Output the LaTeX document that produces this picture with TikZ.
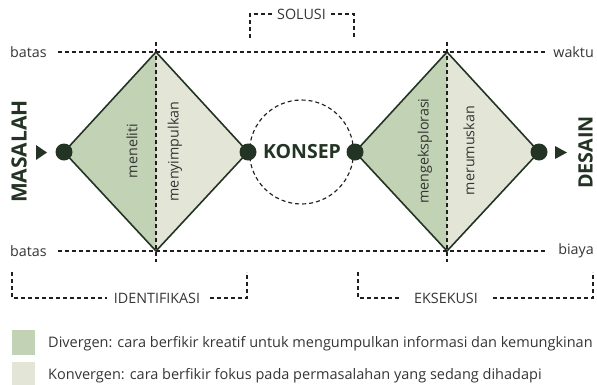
\documentclass[tikz,border=0pt]{standalone}
\usepackage{fontspec}
\setmainfont{Open Sans}
\definecolor{dk}{HTML}{243424}
\definecolor{gA}{HTML}{C2D2B4}
\definecolor{gB}{HTML}{E3E6D7}
\definecolor{tx}{HTML}{353535}
\tikzset{
  dl/.style={dash pattern=on 4pt off 3pt, line width=1.15pt, draw=black!88},
  lab/.style={text=tx, font=\fontsize{14.3}{15}\selectfont, inner sep=0pt},
  rlab/.style={lab, rotate=90},
  big/.style={text=dk, inner sep=0pt},
  dot/.style={circle, fill=dk, minimum size=17pt, inner sep=0pt},
  edgeline/.style={draw=dk, line width=1.6pt, line join=miter},
  brk/.style={lab, fill=white}
}
\begin{document}
\begin{tikzpicture}[x=1pt,y=-1pt]
\useasboundingbox (0,0) rectangle (597,384);
% diamond vertices
\coordinate (L1) at (64,152);  \coordinate (T1) at (156,52);
\coordinate (R1) at (248,152); \coordinate (B1) at (156,251);
\coordinate (L2) at (355,152); \coordinate (T2) at (447,52);
\coordinate (R2) at (539,152); \coordinate (B2) at (447,251);
% fills
\fill[gA] (L1) -- (T1) -- (B1) -- cycle;
\fill[gB] (T1) -- (R1) -- (B1) -- cycle;
\fill[gA] (L2) -- (T2) -- (B2) -- cycle;
\fill[gB] (T2) -- (R2) -- (B2) -- cycle;
\draw[edgeline] (L1) -- (T1) -- (R1) -- (B1) -- cycle;
\draw[edgeline] (L2) -- (T2) -- (R2) -- (B2) -- cycle;
% vertical dashed axes
\coordinate (V1t) at (156,42); \coordinate (V1b) at (156,262);
\coordinate (V2t) at (447,42); \coordinate (V2b) at (447,262);
\draw[dl] (V1t) -- (V1b);
\draw[dl] (V2t) -- (V2b);
% horizontal limits
\coordinate (Ht1) at (58,52);  \coordinate (Ht2) at (547,52);
\coordinate (Hb1) at (58,251); \coordinate (Hb2) at (547,251);
\draw[dl] (Ht1) -- (Ht2);
\draw[dl] (Hb1) -- (Hb2);
\node[lab, anchor=west] (batasT) at (10,52) {batas};
\node[lab, anchor=west] (batasB) at (10,251) {batas};
\node[lab, anchor=east] (waktu) at (594,52) {waktu};
\node[lab, anchor=east] (biaya) at (594,251) {biaya};
% concept circle
\coordinate (C) at (301.5,152);
\draw[dl] (C) circle[radius=52];
\node[big, font=\bfseries\fontsize{19.5}{19.5}\selectfont] (konsep) at (302,152) {KONSEP};
% dots
\node[dot] (d1) at (L1) {};
\node[dot] (d2) at (R1) {};
\node[dot] (d3) at (L2) {};
\node[dot] (d4) at (R2) {};
% arrows
\fill[dk] (36,145) -- (47,152.5) -- (36,160) -- cycle;
\fill[dk] (555,146) -- (567,152.5) -- (555,159) -- cycle;
\node[big, rotate=90, font=\bfseries\fontsize{21}{21}\selectfont] (masalah) at (19,151.5) {MASALAH};
\node[big, rotate=90, font=\bfseries\fontsize{19.8}{19.8}\selectfont] (desain) at (585.5,152.5) {DESAIN};
% rotated labels
\node[rlab] (n1) at (132,151) {meneliti};
\node[rlab] (n2) at (175,151.5) {menyimpulkan};
\node[rlab] (n3) at (425,151) {mengeksplorasi};
\node[rlab] (n4) at (469,150.5) {merumuskan};
% SOLUSI bracket
\coordinate (s1) at (250,38); \coordinate (s2) at (354,38);
\draw[dl] (s1) |- (302,14) -| (s2);
\node[brk, inner xsep=2.5pt, inner ysep=2pt] (solusi) at (301.5,14) {SOLUSI};
% IDENTIFIKASI bracket
\coordinate (i1) at (12,272); \coordinate (i2) at (247,272);
\draw[dl] (i1) |- (150,298) -| (i2);
\node[brk, minimum width=100pt, inner ysep=2pt] (ident) at (157,298) {IDENTIFIKASI};
% EKSEKUSI bracket
\coordinate (e1) at (358,272); \coordinate (e2) at (593,272);
\draw[dl] (e1) |- (450,298) -| (e2);
\node[brk, minimum width=93pt, inner ysep=2pt] (eks) at (446,298) {EKSEKUSI};
% legend
\fill[gA] (12,330) rectangle (35,355);
\fill[gB] (12,362) rectangle (35,387);
\node[lab, anchor=base west, font=\fontsize{14.5}{15}\selectfont] (leg1) at (48,347) {Divergen: cara berfikir kreatif untuk mengumpulkan informasi dan kemungkinan};
\node[lab, anchor=base west, font=\fontsize{14.5}{15}\selectfont] (leg2) at (48,379) {Konvergen: cara berfikir fokus pada permasalahan yang sedang dihadapi};
\end{tikzpicture}
\end{document}
